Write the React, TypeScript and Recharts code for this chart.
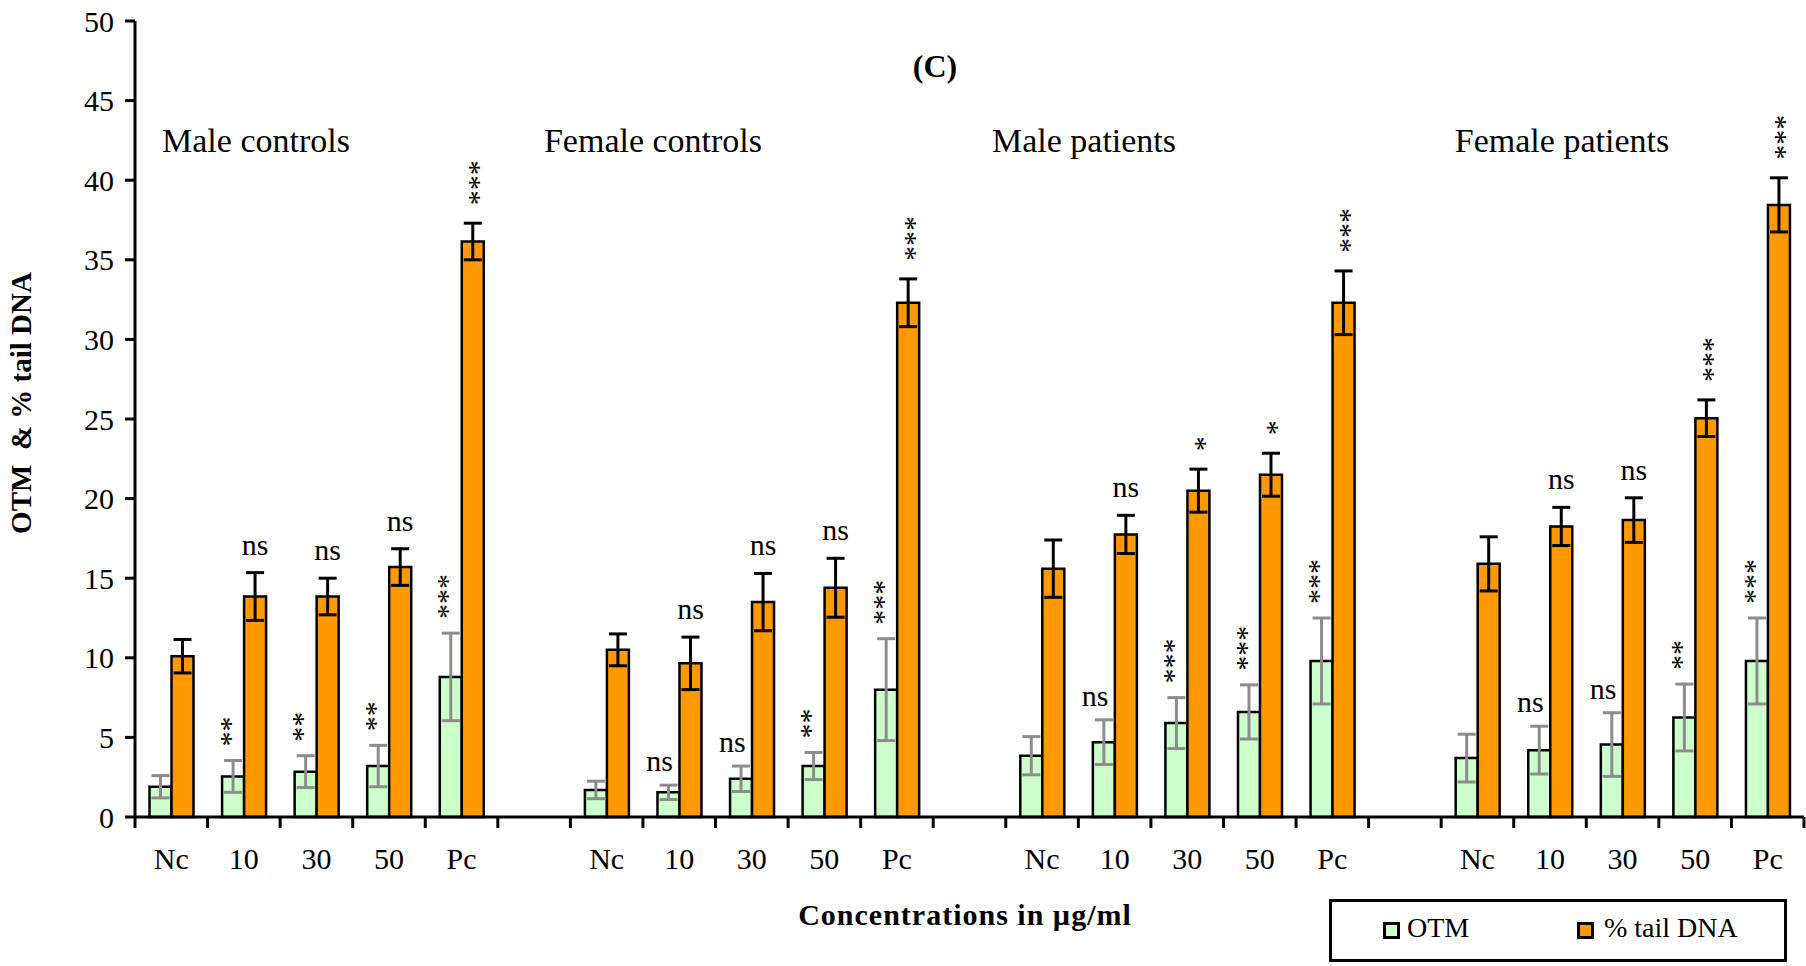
import React from "react";
import { BarChart, Bar, XAxis, YAxis, ErrorBar, LabelList } from "recharts";

const FONT = "'Liberation Serif', 'Times New Roman', serif";
const W = 1806;
const H = 966;
const MARGIN = { top: 21, right: 2, bottom: 89, left: 0 };
const Y_AXIS_W = 135;
const X_AXIS_H = 60;

const groupNames = ["Male controls", "Female controls", "Male patients", "Female patients"];
const concentrations = ["Nc", "10", "30", "50", "Pc"];

// OTM means and SD
const otmMaleControls = [1.9, 2.55, 2.85, 3.2, 8.8];
const otmErrMaleControls = [0.7, 1.0, 1.0, 1.3, 2.75];
const otmFemaleControls = [1.7, 1.55, 2.4, 3.2, 8.0];
const otmErrFemaleControls = [0.55, 0.45, 0.8, 0.85, 3.2];
const otmMalePatients = [3.85, 4.7, 5.9, 6.6, 9.8];
const otmErrMalePatients = [1.2, 1.4, 1.6, 1.7, 2.7];
const otmFemalePatients = [3.7, 4.2, 4.55, 6.25, 9.8];
const otmErrFemalePatients = [1.5, 1.5, 2.0, 2.1, 2.7];

// % tail DNA means and SD
const tailMaleControls = [10.1, 13.85, 13.85, 15.7, 36.15];
const tailErrMaleControls = [1.05, 1.5, 1.15, 1.15, 1.15];
const tailFemaleControls = [10.5, 9.65, 13.5, 14.4, 32.3];
const tailErrFemaleControls = [1.0, 1.65, 1.8, 1.85, 1.5];
const tailMalePatients = [15.6, 17.75, 20.5, 21.5, 32.3];
const tailErrMalePatients = [1.8, 1.2, 1.35, 1.35, 2.0];
const tailFemalePatients = [15.9, 18.25, 18.65, 25.05, 38.45];
const tailErrFemalePatients = [1.7, 1.2, 1.4, 1.15, 1.7];

// significance marks
const otmSigMaleControls = ["", "**", "**", "**", "***"];
const otmSigFemaleControls = ["", "ns", "ns", "**", "***"];
const otmSigMalePatients = ["", "ns", "***", "***", "***"];
const otmSigFemalePatients = ["", "ns", "ns", "**", "***"];
const tailSigMaleControls = ["", "ns", "ns", "ns", "***"];
const tailSigFemaleControls = ["", "ns", "ns", "ns", "***"];
const tailSigMalePatients = ["", "ns", "*", "*", "***"];
const tailSigFemalePatients = ["", "ns", "ns", "***", "***"];

const yTicks = [0, 5, 10, 15, 20, 25, 30, 35, 40, 45, 50];

const groups = [
  { otm: otmMaleControls, otmErr: otmErrMaleControls, tail: tailMaleControls, tailErr: tailErrMaleControls, otmSig: otmSigMaleControls, tailSig: tailSigMaleControls },
  { otm: otmFemaleControls, otmErr: otmErrFemaleControls, tail: tailFemaleControls, tailErr: tailErrFemaleControls, otmSig: otmSigFemaleControls, tailSig: tailSigFemaleControls },
  { otm: otmMalePatients, otmErr: otmErrMalePatients, tail: tailMalePatients, tailErr: tailErrMalePatients, otmSig: otmSigMalePatients, tailSig: tailSigMalePatients },
  { otm: otmFemalePatients, otmErr: otmErrFemalePatients, tail: tailFemalePatients, tailErr: tailErrFemalePatients, otmSig: otmSigFemalePatients, tailSig: tailSigFemalePatients },
];

type Row = {
  cat: string;
  otm: number | null;
  otmErr: number | null;
  tail: number | null;
  tailErr: number | null;
  otmSig: string;
  tailSig: string;
};

const rows: Row[] = [];
groups.forEach((g, gi) => {
  if (gi > 0) {
    rows.push({ cat: "", otm: null, otmErr: null, tail: null, tailErr: null, otmSig: "", tailSig: "" });
  }
  concentrations.forEach((c, i) => {
    rows.push({
      cat: c,
      otm: g.otm[i],
      otmErr: g.otmErr[i],
      tail: g.tail[i],
      tailErr: g.tailErr[i],
      otmSig: g.otmSig[i],
      tailSig: g.tailSig[i],
    });
  });
});

const plotW = W - MARGIN.left - MARGIN.right - Y_AXIS_W;
const slotW = plotW / rows.length;

function XTick(props: any) {
  const { x, y, payload, index } = props;
  const last = index === rows.length - 1;
  return (
    <g>
      <line x1={x - slotW / 2} y1={y} x2={x - slotW / 2} y2={y + 11} stroke="#000" strokeWidth={3} />
      {last && <line x1={x + slotW / 2} y1={y} x2={x + slotW / 2} y2={y + 11} stroke="#000" strokeWidth={3} />}
      <text x={x} y={y + 52} textAnchor="middle" fontFamily={FONT} fontSize={30} fill="#000">
        {payload.value}
      </text>
    </g>
  );
}

// "ns" sits flat; asterisks are stacked upwards (rotated text, as in the source figure)
function Marks({ text, cx, bottom }: { text: string; cx: number; bottom: number }) {
  if (text === "ns") {
    return (
      <text x={cx} y={bottom} textAnchor="middle" fontFamily={FONT} fontSize={30} fill="#000">
        ns
      </text>
    );
  }
  return (
    <text
      transform={`translate(${cx + 5}, ${bottom}) rotate(-90)`}
      textAnchor="start"
      dominantBaseline="central"
      fontFamily={FONT}
      fontSize={30}
      fill="#000"
    >
      {text}
    </text>
  );
}

const sigLabel = (valKey: "otm" | "tail", errKey: "otmErr" | "tailErr", sigKey: "otmSig" | "tailSig", shift: number, gap: number) =>
  (props: any) => {
    const row: Row | undefined = props.value;
    if (!row || !row[sigKey] || row[valKey] == null) return null;
    const vb = props.viewBox || props;
    const { x, y, width, height } = vb;
    const val = row[valKey] as number;
    const err = row[errKey] as number;
    const ppu = height / val;
    const errTop = y - err * ppu;
    return <Marks text={row[sigKey]} cx={x + width * shift} bottom={errTop - gap} />;
  };

function Legend() {
  return (
    <div
      style={{
        position: "absolute",
        left: 1329,
        top: 899,
        width: 458,
        height: 63,
        border: "3px solid #000",
        boxSizing: "border-box",
        background: "#fff",
        fontFamily: FONT,
        fontSize: 28,
        color: "#000",
      }}
    >
      <div style={{ position: "absolute", left: 51, top: 20, width: 11, height: 11, border: "3px solid #000", background: "#CCFFCC" }} />
      <div style={{ position: "absolute", left: 75, top: 9, lineHeight: "34px" }}>OTM</div>
      <div style={{ position: "absolute", left: 245, top: 20, width: 11, height: 11, border: "3px solid #000", background: "#FF9900" }} />
      <div style={{ position: "absolute", left: 272, top: 9, lineHeight: "34px" }}>% tail DNA</div>
    </div>
  );
}

export default function App() {
  return (
    <div style={{ position: "absolute", left: 0, top: 0, width: W, height: H, background: "#fff" }}>
      <BarChart
        width={W}
        height={H}
        data={rows}
        margin={MARGIN}
        barCategoryGap="20%"
        barGap={0}
      >
        <XAxis
          dataKey="cat"
          interval={0}
          height={X_AXIS_H}
          tickLine={false}
          tickSize={0}
          tickMargin={0}
          axisLine={{ stroke: "#000", strokeWidth: 3 }}
          tick={<XTick />}
        />
        <YAxis
          width={Y_AXIS_W}
          domain={[0, 50]}
          ticks={yTicks}
          interval={0}
          tickSize={10}
          tickMargin={11}
          axisLine={{ stroke: "#000", strokeWidth: 3 }}
          tickLine={{ stroke: "#000", strokeWidth: 3 }}
          tick={{ fontFamily: FONT, fontSize: 30, fill: "#000" }}
        />
        <Bar dataKey="otm" name="OTM" fill="#CCFFCC" stroke="#000" strokeWidth={2.5} isAnimationActive={false}>
          <ErrorBar dataKey="otmErr" width={9} stroke="#8c8c8c" strokeWidth={3} direction="y" />
          <LabelList dataKey={(p: any) => p} content={sigLabel("otm", "otmErr", "otmSig", 0.1, 14)} />
        </Bar>
        <Bar dataKey="tail" name="% tail DNA" fill="#FF9900" stroke="#000" strokeWidth={2.5} isAnimationActive={false}>
          <ErrorBar dataKey="tailErr" width={9} stroke="#000" strokeWidth={3} direction="y" />
          <LabelList dataKey={(p: any) => p} content={sigLabel("tail", "tailErr", "tailSig", 0.5, 18)} />
        </Bar>
      </BarChart>

      <svg width={W} height={H} style={{ position: "absolute", left: 0, top: 0, pointerEvents: "none" }}>
        <text x={935} y={77} textAnchor="middle" fontFamily={FONT} fontSize={32} fontWeight="bold" fill="#000">
          (C)
        </text>
        {groupNames.map((name, i) => (
          <text key={name} x={[256, 653, 1084, 1562][i]} y={152} textAnchor="middle" fontFamily={FONT} fontSize={34} fill="#000">
            {name}
          </text>
        ))}
        <text
          transform="translate(21, 403) rotate(-90)"
          textAnchor="middle"
          dominantBaseline="central"
          fontFamily={FONT}
          fontSize={29}
          fontWeight="bold"
          fill="#000"
          style={{ whiteSpace: "pre" }}
        >
          {"OTM  & % tail DNA"}
        </text>
        <text x={965} y={925} textAnchor="middle" fontFamily={FONT} fontSize={30} fontWeight="bold" letterSpacing={1} fill="#000">
          Concentrations in µg/ml
        </text>
      </svg>
      <Legend />
    </div>
  );
}
